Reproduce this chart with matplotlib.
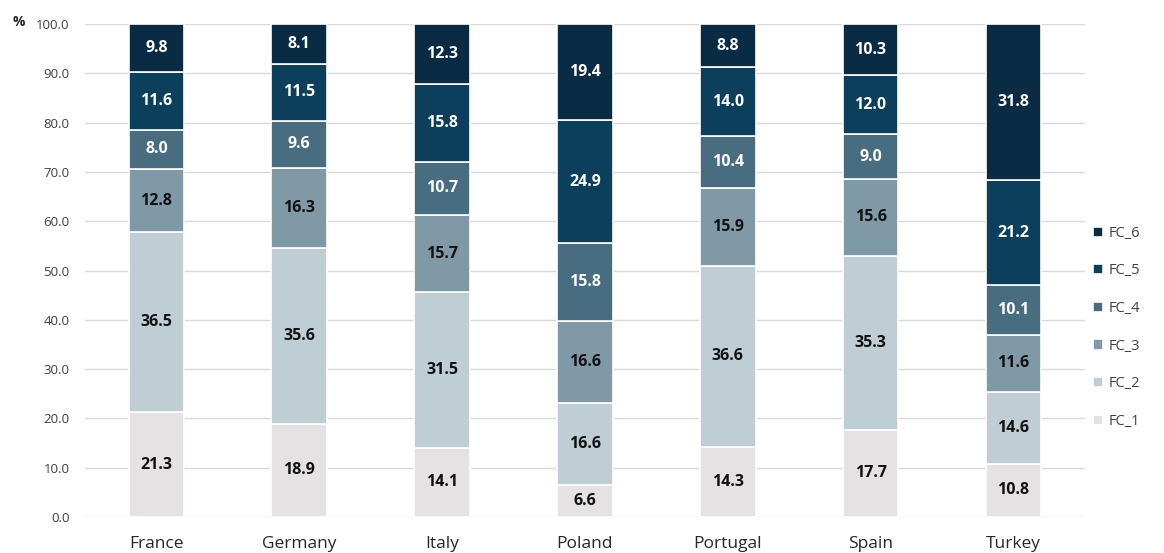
import numpy as np
import matplotlib.pyplot as plt

countries = ["France", "Germany", "Italy", "Poland", "Portugal", "Spain", "Turkey"]
series = ["FC_1", "FC_2", "FC_3", "FC_4", "FC_5", "FC_6"]

fc1 = [21.3, 18.9, 14.1, 6.6, 14.3, 17.7, 10.8]
fc2 = [36.5, 35.6, 31.5, 16.6, 36.6, 35.3, 14.6]
fc3 = [12.8, 16.3, 15.7, 16.6, 15.9, 15.6, 11.6]
fc4 = [8.0, 9.6, 10.7, 15.8, 10.4, 9.0, 10.1]
fc5 = [11.6, 11.5, 15.8, 24.9, 14.0, 12.0, 21.2]
fc6 = [9.8, 8.1, 12.3, 19.4, 8.8, 10.3, 31.8]

colors = ["#e4e2e2", "#bfcdd4", "#7f9aa6", "#486c80", "#0b3f5c", "#0a2b44"]
text_colors = ["#111111", "#111111", "#111111", "white", "white", "white"]

plt.rcParams['font.family'] = ['Open Sans', 'DejaVu Sans']

fig = plt.figure(figsize=(11.64, 5.53), dpi=100)
ax = fig.add_axes([0.073, 0.065, 0.859, 0.8916])

x = np.arange(len(countries))
bottom = np.zeros(len(countries))
handles = []
for vals, name, col, tc in zip([fc1, fc2, fc3, fc4, fc5, fc6], series, colors, text_colors):
    vals = np.array(vals)
    bars = ax.bar(x, vals, 0.39, bottom=bottom, color=col, edgecolor="white",
                  linewidth=1.2, label=name, zorder=3)
    handles.append(bars)
    for xi, b, v in zip(x, bottom, vals):
        ax.text(xi, b + v / 2, f"{v:.1f}", ha="center", va="center",
                fontsize=11.5, fontweight="bold", color=tc, zorder=4)
    bottom += vals

ax.set_xlim(-0.5, len(countries) - 0.5)
ax.set_ylim(0, 100)
ax.set_yticks(np.arange(0, 101, 10))
ax.set_yticklabels([f"{v:.1f}" for v in np.arange(0, 101, 10)], fontsize=9.5, color="#404040")
ax.set_xticks(x)
ax.set_xticklabels(countries, fontsize=12.5, color="#262626")
ax.tick_params(axis="both", length=0)
ax.tick_params(axis="y", pad=11)
ax.tick_params(axis="x", pad=14)
ax.grid(axis="y", color="#d9d9d9", linewidth=1, zorder=0)
for s in ax.spines.values():
    s.set_visible(False)
ax.set_axisbelow(True)

fig.text(0.011, 0.96, "%", fontsize=10, fontweight="bold", color="#262626", va="center")

leg = ax.legend(handles[::-1], series[::-1], loc="center left", bbox_to_anchor=(0.995, 0.385),
                frameon=False, fontsize=10.5, handlelength=0.7, handleheight=0.7,
                labelspacing=1.55, handletextpad=0.4)
for t in leg.get_texts():
    t.set_color("#404040")

fig.savefig("out.png", dpi=100)
